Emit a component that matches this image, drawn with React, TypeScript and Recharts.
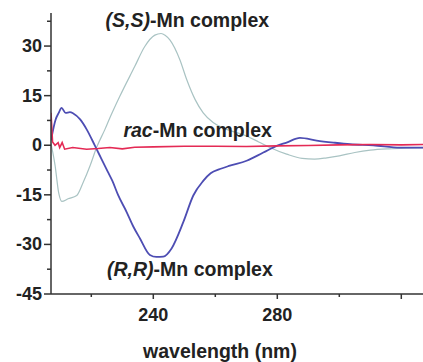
import { LineChart, Line, XAxis, YAxis, ReferenceDot } from "recharts";

// wavelength (nm) and CD values
const SS_NM = [207, 208.3, 209.5, 210.5, 212.5, 215.3, 217.4, 219.6, 221.7, 224.4, 226, 229.2, 234, 237.2, 240.5, 242.5, 243.8, 245.4, 248.6, 250.8, 253.5, 256.1, 259.4, 263.7, 270.1, 274, 277.6, 283, 288, 292, 296, 300, 305, 310, 316, 322, 327];
const SS_CD = [0.5, -6, -14.5, -17, -16.2, -15.2, -11.2, -6.2, -0.7, 4.8, 8.3, 14.8, 23.8, 29.8, 33.3, 33.8, 33.3, 31.8, 25.8, 19.8, 13.8, 9.8, 6.8, 4.8, 2.8, 1, -0.7, -2.7, -4, -4.2, -3.8, -3.2, -2.2, -1.5, -1.1, -0.9, -0.8];

const RR_NM = [207, 208.5, 209.5, 210.4, 211.7, 213.1, 214.2, 216.4, 218.5, 221.2, 223.3, 225.3, 226.8, 228.7, 231.4, 233.5, 235.7, 238.9, 241, 243.2, 245.9, 249.7, 252.9, 256.1, 258.5, 261.5, 264.7, 270.1, 275.5, 279.8, 283, 287.3, 292.7, 298.1, 303.5, 311, 319.6, 327];
const RR_CD = [1.5, 7.8, 9.8, 11.3, 9.8, 10, 9.6, 7.8, 4.8, -0.2, -4.2, -8, -10.8, -15.2, -20.2, -24.5, -28.2, -33.2, -33.8, -33.7, -31.2, -23.2, -15.2, -10.8, -8.5, -7.2, -6.2, -4.7, -2.2, -0.2, 0.8, 2.2, 1.4, 0.8, 0.3, 0, -0.7, -0.7];

const RAC_NM = [207, 207.5, 208.3, 209.3, 209.8, 210.6, 211.4, 214, 218.5, 222.2, 226, 230, 234, 240, 250, 260, 270, 280, 290, 300, 310, 320, 327];
const RAC_CD = [9.8, 1, 0, 0.8, -0.7, 0.8, -1.2, -0.7, -1.2, -1, -0.7, -1.1, -0.6, -0.5, -0.3, -0.3, -0.4, -0.2, -0.1, 0.1, 0.2, 0.1, 0.2];

const X_TICKS = [220, 240, 260, 280, 300, 320];
const X_LABELS = [240, 280];
const Y_TICKS = [-45, -37.5, -30, -22.5, -15, -7.5, 0, 7.5, 15, 22.5, 30, 37.5];
const Y_LABELS = [-45, -30, -15, 0, 15, 30];

const toPoints = (nm: number[], cd: number[]) => nm.map((x, i) => ({ x, y: cd[i] }));

const FONT = "'Liberation Sans', Arial, sans-serif";
const INK = "#222";

const XTick = ({ x, y, payload }: any) => {
  const major = X_LABELS.includes(payload.value) || payload.value === 320;
  return (
    <g>
      <line x1={x} x2={x} y1={y} y2={y + (major ? 5 : 3)} stroke="#333" strokeWidth={1.5} />
      {X_LABELS.includes(payload.value) && (
        <text x={x} y={y + 27} textAnchor="middle" fontFamily={FONT} fontWeight="bold" fontSize={18} fill={INK}>
          {payload.value}
        </text>
      )}
    </g>
  );
};

const YTick = ({ x, y, payload }: any) => {
  const major = Y_LABELS.includes(payload.value);
  return (
    <g>
      <line x1={x - (major ? 7 : 4)} x2={x} y1={y} y2={y} stroke="#333" strokeWidth={1.5} />
      {major && (
        <text x={x - 9} y={y + 6} textAnchor="end" fontFamily={FONT} fontWeight="bold" fontSize={18} fill={INK}>
          {payload.value}
        </text>
      )}
    </g>
  );
};

const Annot = ({ viewBox, italic, rest }: any) => {
  const cx = viewBox.x + (viewBox.width || 0) / 2;
  const cy = viewBox.y + (viewBox.height || 0) / 2;
  return (
    <text x={cx} y={cy + 7} textAnchor="middle" fontFamily={FONT} fontWeight="bold" fontSize={19.5} fill={INK}>
      <tspan fontStyle="italic">{italic}</tspan>
      <tspan>{rest}</tspan>
    </text>
  );
};

export default function App() {
  return (
    <div style={{ position: "absolute", left: 0, top: 0, background: "#fff" }}>
      <LineChart width={423} height={362} margin={{ top: 13, right: 0, bottom: 0, left: 0 }}>
        <XAxis
          type="number"
          dataKey="x"
          domain={[207, 327]}
          ticks={X_TICKS}
          tick={<XTick />}
          tickSize={0}
          tickMargin={0}
          tickLine={false}
          axisLine={{ stroke: "#333", strokeWidth: 1.5 }}
          height={68}
          allowDataOverflow
          label={({ viewBox }: any) => (
            <text x={220} y={viewBox.y + viewBox.height - 4} textAnchor="middle" fontFamily={FONT} fontWeight="bold" fontSize={19.5} fill={INK}>
              wavelength (nm)
            </text>
          )}
        />
        <YAxis
          type="number"
          domain={[-45, 40]}
          ticks={Y_TICKS}
          tick={<YTick />}
          tickSize={0}
          tickMargin={0}
          tickLine={false}
          axisLine={{ stroke: "#333", strokeWidth: 1.5 }}
          width={51}
          allowDataOverflow
        />
        <Line data={toPoints(SS_NM, SS_CD)} dataKey="y" type="monotone" stroke="#a9c3c3" strokeWidth={1.2} dot={false} isAnimationActive={false} />
        <Line data={toPoints(RR_NM, RR_CD)} dataKey="y" type="monotone" stroke="#4d4db3" strokeWidth={1.8} dot={false} isAnimationActive={false} />
        <Line data={toPoints(RAC_NM, RAC_CD)} dataKey="y" type="linear" stroke="#e42a55" strokeWidth={1.6} dot={false} isAnimationActive={false} />
        <ReferenceDot x={251} y={37.8} r={0} fill="none" stroke="none" label={<Annot italic="(S,S)" rest="-Mn complex" />} />
        <ReferenceDot x={254.3} y={4.5} r={0} fill="none" stroke="none" label={<Annot italic="rac" rest="-Mn complex" />} />
        <ReferenceDot x={251.8} y={-37.5} r={0} fill="none" stroke="none" label={<Annot italic="(R,R)" rest="-Mn complex" />} />
      </LineChart>
    </div>
  );
}
